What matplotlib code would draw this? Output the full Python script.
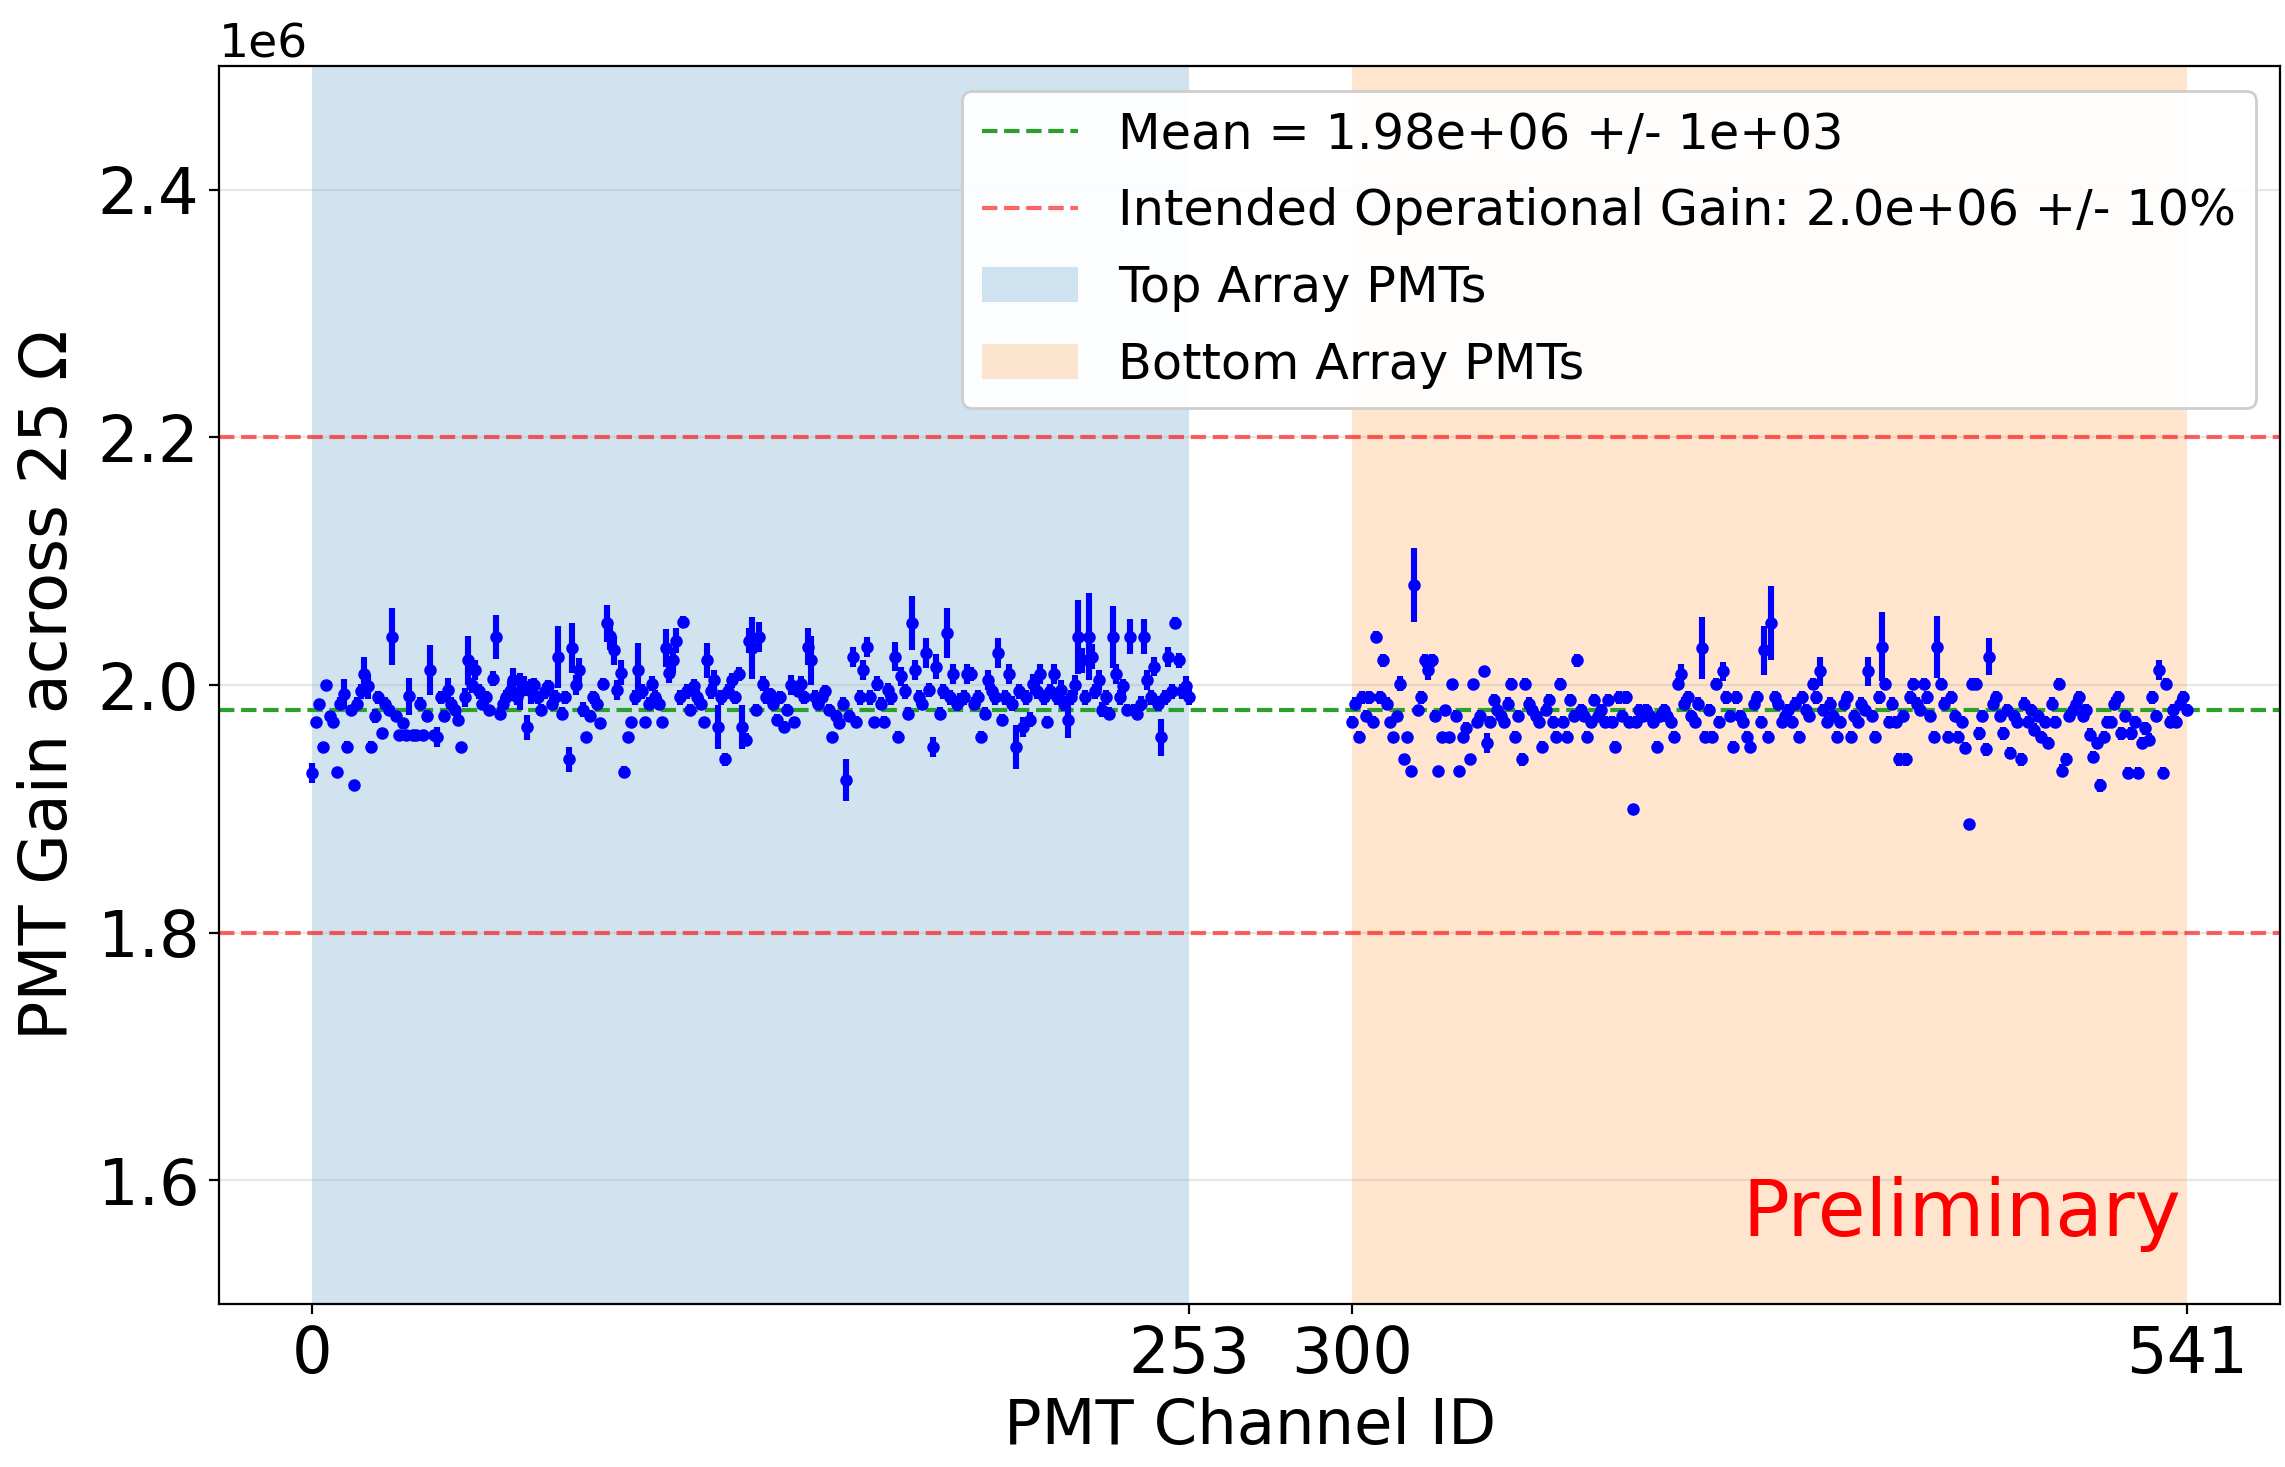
import matplotlib
matplotlib.use("Agg")
import matplotlib.pyplot as plt
import numpy as np

# gains in units of 1e3
top_gain = [
    1929, 1970, 1985, 1950, 2000, 1975, 1970, 1930, 1985, 1993,
    1950, 1980, 1919, 1985, 1995, 2009, 1999, 1950, 1975, 1990,
    1961, 1985, 1980, 2039, 1975, 1960, 1969, 1960, 1991, 1960,
    1960, 1985, 1960, 1975, 2012, 1960, 1958, 1990, 1975, 1996,
    1985, 1980, 1972, 1950, 1990, 2020, 2000, 2012, 1995, 1985,
    1990, 1980, 2005, 2039, 1977, 1985, 1990, 1995, 2004, 1990,
    1995, 1999, 1966, 1995, 2000, 1990, 1980, 1995, 1999, 1985,
    1990, 2023, 1977, 1990, 1940, 2030, 2000, 2012, 1980, 1958,
    1975, 1990, 1985, 1969, 2001, 2050, 2040, 2028, 1996, 2010,
    1930, 1958, 1970, 1990, 2012, 1995, 1970, 1985, 2001, 1990,
    1985, 1970, 2030, 2010, 2020, 2036, 1990, 2051, 1995, 1980,
    1999, 1990, 1985, 1970, 2020, 1995, 2004, 1966, 1990, 1940,
    1995, 2004, 1990, 2009, 1966, 1956, 2036, 2030, 1980, 2039,
    2001, 1990, 1993, 1985, 1972, 1990, 1966, 1980, 2000, 1970,
    1995, 2001, 1990, 2031, 2020, 1990, 1985, 1990, 1995, 1980,
    1958, 1975, 1969, 1985, 1923, 1975, 2023, 1970, 1990, 2012,
    2031, 1990, 1970, 2001, 1985, 1970, 1996, 1990, 2023, 1958,
    2007, 1995, 1977, 2050, 2012, 1990, 1985, 2026, 1996, 1950,
    2015, 1977, 1995, 2042, 1990, 2009, 1985, 1988, 1990, 2009,
    2009, 1985, 1990, 1958, 1977, 2004, 1995, 1990, 2026, 1972,
    1990, 2009, 1985, 1950, 1995, 1966, 1990, 1972, 2001, 1995,
    2009, 1990, 1970, 1995, 2009, 1990, 1996, 1985, 1972, 1990,
    2000, 2039, 2020, 1990, 2039, 2023, 1995, 2004, 1980, 1990,
    1977, 2039, 2009, 1990, 1999, 1980, 2039, 1980, 1977, 1985,
    2039, 2004, 1990, 2015, 1985, 1958, 1990, 2023, 1995, 2050,
    2020, 1995, 1999, 1990,
]
top_err = [
    8, 4, 4, 4, 4, 4, 4, 4, 5, 12,
    5, 4, 4, 5, 6, 14, 10, 5, 6, 5,
    4, 5, 4, 23, 4, 4, 4, 4, 15, 4,
    4, 5, 4, 5, 20, 4, 8, 5, 5, 10,
    5, 5, 5, 4, 8, 20, 6, 8, 6, 5,
    5, 4, 6, 18, 5, 5, 6, 8, 10, 6,
    15, 8, 10, 10, 6, 5, 5, 6, 5, 5,
    6, 25, 5, 5, 10, 20, 8, 10, 6, 4,
    5, 5, 5, 4, 5, 15, 12, 12, 8, 10,
    5, 4, 4, 6, 22, 6, 4, 5, 6, 6,
    5, 4, 15, 8, 10, 10, 6, 5, 6, 5,
    6, 6, 5, 4, 14, 6, 8, 18, 6, 5,
    6, 6, 5, 6, 18, 5, 10, 25, 5, 12,
    6, 5, 5, 5, 5, 5, 5, 5, 8, 4,
    5, 6, 5, 15, 20, 6, 5, 5, 5, 5,
    4, 5, 4, 5, 17, 5, 8, 5, 6, 8,
    8, 6, 4, 6, 5, 5, 6, 6, 12, 5,
    8, 6, 5, 22, 8, 6, 5, 12, 6, 8,
    10, 5, 6, 20, 6, 8, 6, 6, 6, 8,
    6, 5, 6, 5, 5, 8, 6, 6, 12, 5,
    6, 8, 6, 18, 6, 8, 6, 6, 8, 6,
    8, 6, 5, 6, 8, 6, 8, 6, 15, 6,
    8, 30, 10, 6, 35, 10, 6, 8, 6, 6,
    5, 25, 8, 6, 6, 5, 14, 5, 5, 6,
    14, 8, 6, 8, 6, 15, 6, 8, 6, 5,
    6, 6, 8, 6,
]

bottom_gain = [
    1970, 1985, 1958, 1990, 1975, 1990, 1970, 2039, 1990, 2020,
    1985, 1970, 1958, 1975, 2001, 1940, 1958, 1931, 2081, 1980,
    1990, 2020, 2012, 2020, 1975, 1931, 1958, 1980, 1958, 2001,
    1975, 1931, 1958, 1965, 1940, 2001, 1970, 1975, 2011, 1953,
    1970, 1988, 1980, 1975, 1970, 1985, 2001, 1958, 1975, 1940,
    2001, 1985, 1980, 1975, 1970, 1950, 1980, 1988, 1970, 1958,
    2001, 1970, 1958, 1988, 1975, 2020, 1980, 1975, 1958, 1970,
    1988, 1975, 1980, 1970, 1988, 1970, 1950, 1990, 1975, 1990,
    1970, 1900, 1970, 1980, 1975, 1980, 1975, 1970, 1950, 1975,
    1980, 1975, 1970, 1958, 2001, 2009, 1985, 1990, 1975, 1970,
    1985, 2030, 1958, 1980, 1958, 2001, 1970, 2011, 1990, 1975,
    1950, 1990, 1975, 1970, 1958, 1950, 1985, 1990, 1970, 2028,
    1958, 2050, 1990, 1985, 1970, 1975, 1980, 1970, 1985, 1958,
    1990, 1980, 1975, 2001, 1990, 2011, 1980, 1970, 1985, 1975,
    1958, 1970, 1985, 1990, 1958, 1975, 1970, 1985, 1980, 2011,
    1975, 1958, 1990, 2031, 2001, 1970, 1985, 1970, 1940, 1975,
    1940, 1990, 2001, 1985, 1980, 2001, 1990, 1975, 1958, 2031,
    2001, 1985, 1958, 1990, 1975, 1958, 1970, 1949, 1888, 2001,
    2001, 1961, 1975, 1948, 2023, 1985, 1990, 1975, 1961, 1980,
    1945, 1975, 1970, 1940, 1985, 1970, 1980, 1964, 1975, 1958,
    1970, 1953, 1985, 1970, 2001, 1931, 1940, 1975, 1980, 1985,
    1990, 1975, 1980, 1960, 1942, 1953, 1919, 1958, 1970, 1970,
    1985, 1990, 1961, 1975, 1929, 1961, 1970, 1929, 1953, 1965,
    1956, 1990, 1975, 2012, 1929, 2001, 1970, 1980, 1970, 1985,
    1990, 1980,
]
bottom_err = [
    5, 5, 5, 5, 5, 5, 5, 5, 5, 5,
    5, 4, 4, 4, 6, 4, 4, 4, 30, 4,
    5, 5, 8, 5, 5, 4, 4, 4, 4, 4,
    5, 4, 4, 5, 4, 4, 4, 5, 4, 8,
    5, 5, 5, 5, 5, 5, 5, 5, 5, 5,
    5, 5, 5, 5, 5, 5, 5, 5, 5, 5,
    5, 5, 5, 5, 5, 5, 5, 5, 5, 5,
    5, 5, 5, 5, 5, 5, 5, 5, 5, 5,
    5, 4, 5, 5, 5, 5, 5, 5, 5, 5,
    5, 5, 5, 5, 5, 8, 5, 5, 5, 5,
    5, 25, 5, 5, 5, 5, 5, 8, 5, 5,
    5, 5, 5, 5, 5, 5, 5, 5, 5, 20,
    5, 30, 5, 5, 5, 5, 5, 5, 5, 5,
    5, 5, 5, 5, 5, 12, 5, 5, 5, 5,
    5, 5, 5, 5, 5, 5, 5, 5, 5, 12,
    5, 5, 5, 28, 5, 5, 5, 5, 5, 5,
    5, 5, 5, 5, 5, 5, 5, 5, 5, 25,
    5, 5, 5, 5, 5, 5, 5, 5, 4, 5,
    5, 5, 5, 5, 15, 5, 5, 5, 5, 5,
    5, 5, 5, 5, 5, 5, 5, 5, 5, 5,
    5, 5, 5, 5, 5, 5, 5, 5, 5, 5,
    5, 5, 5, 5, 5, 5, 5, 5, 5, 5,
    5, 5, 5, 5, 5, 5, 5, 5, 5, 5,
    5, 5, 5, 8, 5, 5, 5, 5, 5, 5,
    5, 5,
]

mean_gain = 1.98e6
target_gain = 2.0e6
x_ticks = [0, 253, 300, 541]


def main():
    top_ch = np.arange(0, 254)
    bottom_ch = np.arange(300, 542)
    channels = np.concatenate([top_ch, bottom_ch])
    gains = np.array(top_gain + bottom_gain) * 1e3
    errs = np.array(top_err + bottom_err) * 1e3

    fig, ax = plt.subplots(figsize=(11.425, 7.335), dpi=200)
    fig.subplots_adjust(left=0.0958, right=0.998, top=0.955, bottom=0.111)

    ax.errorbar(channels, gains, yerr=errs, fmt='o', color='blue',
                markersize=3.5, elinewidth=2.2, zorder=3)
    ax.axhline(mean_gain, color='tab:green', ls='--', lw=1.5,
               label='Mean = 1.98e+06 +/- 1e+03')
    ax.axhline(target_gain * 1.1, color='red', ls='--', lw=1.5, alpha=0.6,
               label='Intended Operational Gain: 2.0e+06 +/- 10%')
    ax.axhline(target_gain * 0.9, color='red', ls='--', lw=1.5, alpha=0.6)
    ax.axvspan(top_ch[0], top_ch[-1], color='tab:blue', alpha=0.2, lw=0,
               label='Top Array PMTs')
    ax.axvspan(bottom_ch[0], bottom_ch[-1], color='tab:orange', alpha=0.2, lw=0,
               label='Bottom Array PMTs')

    ax.set_xlim(-27, 568)
    ax.set_ylim(1.5e6, 2.5e6)
    ax.set_xticks(x_ticks)
    ax.set_yticks([1.6e6, 1.8e6, 2.0e6, 2.2e6, 2.4e6])
    ax.tick_params(labelsize=23)
    ax.yaxis.get_offset_text().set_fontsize(17)
    ax.grid(axis='y', alpha=0.3)

    ax.set_xlabel('PMT Channel ID', fontsize=22.5, labelpad=4)
    ax.set_ylabel('PMT Gain across 25 Ω', fontsize=23.5, labelpad=6)
    ax.text(0.952, 0.055, 'Preliminary', color='red', fontsize=28,
            ha='right', va='baseline', transform=ax.transAxes)
    ax.legend(loc='upper right', fontsize=17.8, labelspacing=0.58,
              framealpha=0.95, handlelength=1.95)

    fig.savefig('out.png', dpi=200)


if __name__ == "__main__":
    main()
